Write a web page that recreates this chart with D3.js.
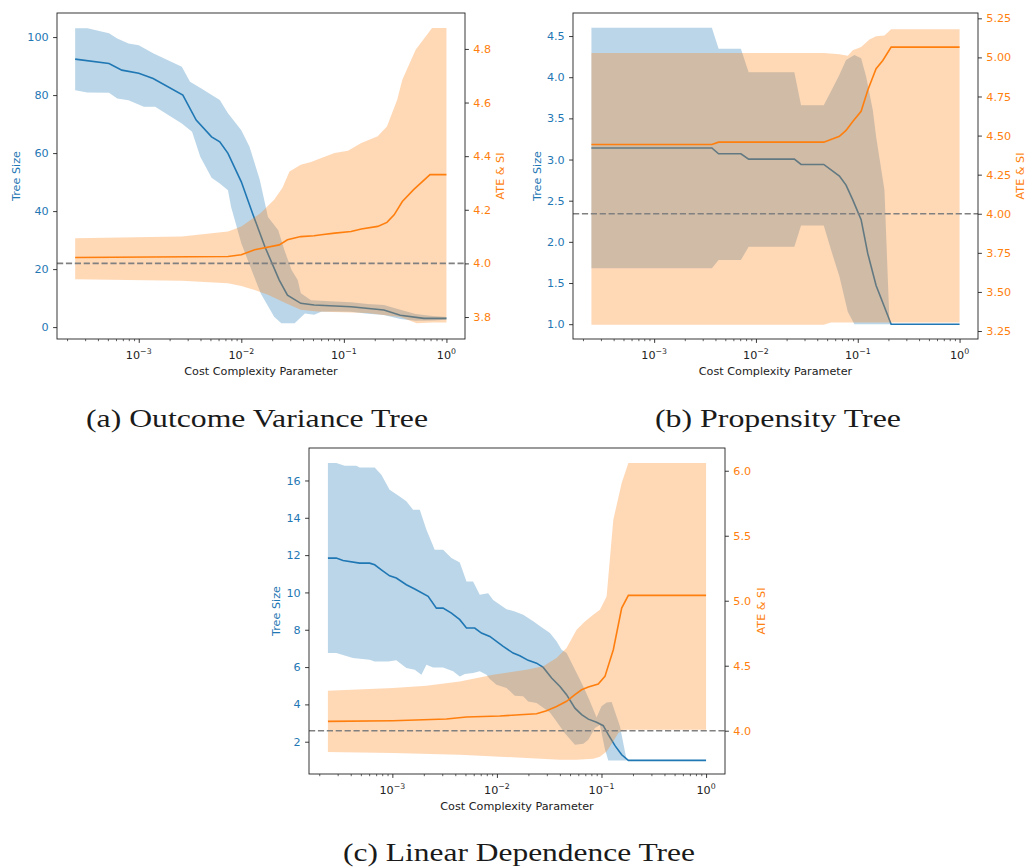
<!DOCTYPE html>
<html>
<head>
<meta charset="utf-8">
<script src="https://cdn.jsdelivr.net/npm/d3@7"></script>
<style>
  body { margin: 0; background: #fff; }
  svg { display: block; }
</style>
</head>
<body>
<svg id="fig" width="1026" height="868"></svg>
<script>
// every series is a list of [log10(cost complexity alpha), value]

// (a) Outcome Variance Tree
const sizeMeanA = [[-3.62, 92.4], [-3.29, 90.9], [-3.165, 88.6], [-3.0, 87.5], [-2.86, 85.7], [-2.57, 80.0], [-2.44, 71.4], [-2.29, 65.6], [-2.21, 63.9], [-2.13, 59.9], [-2.0, 50.1], [-1.89, 39.2], [-1.77, 27.7], [-1.63, 16.2], [-1.55, 11.0], [-1.42, 8.2], [-1.29, 7.6], [-0.93, 7.0], [-0.61, 5.9], [-0.45, 4.1], [-0.22, 3.0], [0, 3.0]];
const sizeHiA = [[-3.62, 103], [-3.5, 103], [-3.29, 101.3], [-3.21, 99.5], [-3.1, 97.8], [-3.0, 97.2], [-2.86, 94.4], [-2.58, 89.8], [-2.5, 84.6], [-2.39, 82.3], [-2.21, 78.3], [-2.13, 73.7], [-2.0, 67.9], [-1.92, 62.2], [-1.82, 50.8], [-1.74, 38], [-1.64, 33.4], [-1.58, 26.6], [-1.51, 19.7], [-1.45, 16.2], [-1.42, 11.7], [-1.32, 9.3], [-1.09, 8.8], [-0.93, 8.6], [-0.77, 8.0], [-0.61, 7.6], [-0.45, 6.0], [-0.3, 4.5], [-0.14, 3.8], [0, 3.5]];
const sizeLoA = [[-3.62, 81.7], [-3.5, 80.9], [-3.29, 80.8], [-3.21, 78.8], [-3.1, 78.2], [-2.95, 76.0], [-2.84, 76.0], [-2.58, 70.2], [-2.48, 67.4], [-2.4, 58.7], [-2.29, 51.5], [-2.21, 49.5], [-2.13, 47.2], [-2.1, 41.5], [-2.0, 28.9], [-1.9, 19.7], [-1.81, 11.6], [-1.68, 3.6], [-1.61, 1.3], [-1.48, 1.3], [-1.38, 4.7], [-1.29, 4.3], [-1.22, 5.3], [-1.09, 5.4], [-0.93, 5.3], [-0.77, 4.6], [-0.61, 4.2], [-0.45, 2.8], [-0.3, 2.2], [-0.14, 2.3], [0, 2.5]];
const ateMeanA = [[-3.62, 4.022], [-2.13, 4.026], [-2.0, 4.032], [-1.87, 4.051], [-1.63, 4.069], [-1.55, 4.088], [-1.42, 4.10], [-1.29, 4.103], [-1.22, 4.107], [-1.09, 4.113], [-0.93, 4.119], [-0.83, 4.128], [-0.67, 4.138], [-0.58, 4.153], [-0.51, 4.181], [-0.43, 4.231], [-0.32, 4.275], [-0.16, 4.331], [0, 4.331]];
const ateHiA = [[-3.62, 4.094], [-2.58, 4.10], [-2.13, 4.119], [-2.0, 4.138], [-1.81, 4.188], [-1.68, 4.237], [-1.6, 4.281], [-1.53, 4.343], [-1.42, 4.368], [-1.32, 4.378], [-1.22, 4.393], [-1.09, 4.412], [-0.96, 4.42], [-0.83, 4.449], [-0.67, 4.474], [-0.58, 4.511], [-0.48, 4.61], [-0.43, 4.685], [-0.3, 4.797], [-0.14, 4.878], [0, 4.878]];
const ateLoA = [[-3.62, 3.941], [-2.58, 3.935], [-2.13, 3.926], [-2.0, 3.916], [-1.87, 3.901], [-1.74, 3.883], [-1.57, 3.852], [-1.42, 3.827], [-1.26, 3.821], [-0.77, 3.815], [-0.45, 3.80], [-0.29, 3.777], [-0.14, 3.78], [0, 3.78]];

// (b) Propensity Tree
const sizeMeanB = [[-3.616, 3.14], [-2.433, 3.14], [-2.367, 3.07], [-2.148, 3.07], [-2.072, 3.005], [-1.623, 3.005], [-1.557, 2.94], [-1.334, 2.94], [-1.18, 2.80], [-1.115, 2.69], [-1.049, 2.51], [-0.967, 2.27], [-0.902, 1.86], [-0.82, 1.47], [-0.754, 1.26], [-0.672, 1.0], [0, 1.0]];
const sizeHiB = [[-3.616, 4.6], [-2.433, 4.6], [-2.367, 4.345], [-2.148, 4.345], [-2.072, 4.06], [-1.623, 4.06], [-1.557, 3.66], [-1.334, 3.66], [-1.246, 3.87], [-1.18, 4.03], [-1.115, 4.21], [-1.033, 4.27], [-0.967, 4.23], [-0.918, 4.01], [-0.852, 3.6], [-0.82, 3.28], [-0.738, 2.63], [-0.689, 1.04], [-0.672, 1.0], [0, 1.0]];
const sizeLoB = [[-3.616, 1.68], [-2.433, 1.68], [-2.367, 1.78], [-2.148, 1.78], [-2.072, 1.94], [-1.623, 1.94], [-1.557, 2.2], [-1.334, 2.2], [-1.262, 1.9], [-1.18, 1.58], [-1.098, 1.15], [-1.033, 1.0], [0, 1.0]];
const ateMeanB = [[-3.616, 4.443], [-2.433, 4.443], [-2.367, 4.458], [-1.334, 4.458], [-1.18, 4.495], [-1.115, 4.533], [-1.049, 4.59], [-0.967, 4.655], [-0.902, 4.79], [-0.82, 4.928], [-0.754, 4.98], [-0.672, 5.066], [0, 5.066]];
const ateHiB = [[-3.616, 5.028], [-1.334, 5.028], [-1.18, 5.02], [-1.098, 5.01], [-1.049, 5.045], [-0.967, 5.066], [-0.885, 5.115], [-0.82, 5.135], [-0.738, 5.14], [-0.672, 5.18], [0, 5.18]];
const ateLoB = [[-3.616, 3.29], [-1.334, 3.29], [-1.262, 3.305], [0, 3.305]];

// (c) Linear Dependence Tree
const sizeMeanC = [[-3.616, 11.84], [-3.536, 11.84], [-3.472, 11.71], [-3.313, 11.57], [-3.217, 11.57], [-3.169, 11.48], [-3.105, 11.21], [-3.026, 10.89], [-2.962, 10.77], [-2.866, 10.41], [-2.786, 10.18], [-2.658, 9.79], [-2.579, 9.16], [-2.515, 9.16], [-2.435, 8.89], [-2.355, 8.54], [-2.291, 8.09], [-2.212, 8.09], [-2.148, 7.82], [-2.068, 7.64], [-1.94, 7.11], [-1.845, 6.75], [-1.781, 6.61], [-1.701, 6.36], [-1.621, 6.21], [-1.557, 5.98], [-1.477, 5.41], [-1.397, 4.96], [-1.334, 4.52], [-1.254, 3.8], [-1.19, 3.45], [-1.126, 3.21], [-1.047, 3.04], [-0.983, 2.86], [-0.935, 2.38], [-0.871, 1.79], [-0.807, 1.3], [-0.743, 1.0], [0, 1.0]];
const sizeHiC = [[-3.616, 16.93], [-3.536, 16.93], [-3.456, 16.79], [-3.345, 16.79], [-3.313, 16.7], [-3.169, 16.7], [-3.105, 16.3], [-3.026, 15.5], [-2.93, 15.14], [-2.866, 14.88], [-2.802, 14.43], [-2.738, 14.43], [-2.674, 13.36], [-2.595, 12.29], [-2.515, 12.29], [-2.435, 11.84], [-2.355, 11.6], [-2.291, 10.59], [-2.228, 10.59], [-2.164, 9.88], [-2.084, 9.96], [-2.036, 9.6], [-1.908, 9.1], [-1.829, 8.98], [-1.749, 8.8], [-1.653, 8.45], [-1.573, 8.13], [-1.493, 7.82], [-1.43, 7.38], [-1.382, 6.93], [-1.334, 6.75], [-1.238, 5.68], [-1.174, 4.96], [-1.11, 4.16], [-1.047, 3.3], [-1.0, 3.9], [-0.951, 4.1], [-0.903, 4.13], [-0.823, 2.82], [-0.759, 1.0], [0, 1.0]];
const sizeLoC = [[-3.616, 6.75], [-3.536, 6.75], [-3.377, 6.48], [-3.217, 6.39], [-3.169, 6.3], [-3.041, 6.3], [-2.962, 6.36], [-2.866, 5.95], [-2.786, 5.86], [-2.722, 5.59], [-2.674, 6.12], [-2.611, 5.98], [-2.515, 5.98], [-2.419, 5.77], [-2.355, 5.5], [-2.307, 5.63], [-2.228, 5.68], [-2.164, 5.77], [-2.1, 5.59], [-2.068, 5.36], [-2.004, 5.05], [-1.908, 4.88], [-1.829, 4.46], [-1.749, 4.43], [-1.701, 4.16], [-1.621, 4.07], [-1.573, 3.89], [-1.493, 3.57], [-1.43, 3.09], [-1.35, 2.46], [-1.254, 1.84], [-1.174, 1.89], [-1.126, 2.11], [-1.063, 2.73], [-1.015, 2.9], [-0.967, 1.6], [-0.935, 1.0], [0, 1.0]];
const ateMeanC = [[-3.616, 4.072], [-2.994, 4.077], [-2.483, 4.09], [-2.291, 4.105], [-1.972, 4.113], [-1.781, 4.123], [-1.621, 4.131], [-1.525, 4.154], [-1.43, 4.187], [-1.334, 4.226], [-1.254, 4.277], [-1.19, 4.315], [-1.126, 4.336], [-1.031, 4.359], [-0.967, 4.418], [-0.887, 4.623], [-0.807, 4.944], [-0.743, 5.041], [0, 5.041]];
const ateHiC = [[-3.616, 4.308], [-2.994, 4.328], [-2.674, 4.346], [-2.355, 4.379], [-2.036, 4.431], [-1.717, 4.469], [-1.557, 4.495], [-1.43, 4.559], [-1.334, 4.636], [-1.238, 4.777], [-1.158, 4.841], [-1.079, 4.892], [-1.015, 4.931], [-0.951, 5.033], [-0.887, 5.623], [-0.807, 5.905], [-0.743, 6.059], [0, 6.059]];
const ateLoC = [[-3.616, 3.836], [-2.994, 3.828], [-2.355, 3.815], [-1.717, 3.79], [-1.397, 3.777], [-1.238, 3.777], [-1.079, 3.785], [-1.015, 3.8], [-0.951, 3.84], [-0.887, 3.918], [-0.839, 3.982], [-0.791, 4.008], [0, 4.008]];

// ticks
const xMajor = [1e-3, 1e-2, 1e-1, 1];
const xMajorExp = ["\u22123", "\u22122", "\u22121", "0"];
const sizeTicksA = [0, 20, 40, 60, 80, 100];
const ateTicksA = [3.8, 4.0, 4.2, 4.4, 4.6, 4.8];
const sizeTicksB = [1.0, 1.5, 2.0, 2.5, 3.0, 3.5, 4.0, 4.5];
const ateTicksB = [3.25, 3.5, 3.75, 4.0, 4.25, 4.5, 4.75, 5.0, 5.25];
const sizeTicksC = [2, 4, 6, 8, 10, 12, 14, 16];
const ateTicksC = [4.0, 4.5, 5.0, 5.5, 6.0];
const refAte = 4.0;

const BLUE = "#1f77b4", ORANGE = "#ff7f0e";
const FONT = "DejaVu Sans", FS = 11.2;
const xDomain = [Math.pow(10, -3.797), Math.pow(10, 0.181)];

const panels = [
  { box: [57, 13, 465, 339], sizeDom: [-4.1, 108.3], ateDom: [3.718, 4.934],
    sizeTicks: sizeTicksA, ateTicks: ateTicksA, sizeFmt: d3.format("d"), ateFmt: d3.format(".1f"),
    mean: sizeMeanA, hi: sizeHiA, lo: sizeLoA, aMean: ateMeanA, aHi: ateHiA, aLo: ateLoA,
    lLab: 20, rLab: 503.5, caption: "(a) Outcome Variance Tree", capX: 257, capY: 427, capW: 342 },
  { box: [573, 13, 978, 339], sizeDom: [0.82, 4.78], ateDom: [3.199, 5.284],
    sizeTicks: sizeTicksB, ateTicks: ateTicksB, sizeFmt: d3.format(".1f"), ateFmt: d3.format(".2f"),
    mean: sizeMeanB, hi: sizeHiB, lo: sizeLoB, aMean: ateMeanB, aHi: ateHiB, aLo: ateLoB,
    lLab: 540.5, rLab: 1024, caption: "(b) Propensity Tree", capX: 778, capY: 427, capW: 246 },
  { box: [309, 448, 725, 774], sizeDom: [0.27, 17.74], ateDom: [3.667, 6.175],
    sizeTicks: sizeTicksC, ateTicks: ateTicksC, sizeFmt: d3.format("d"), ateFmt: d3.format(".1f"),
    mean: sizeMeanC, hi: sizeHiC, lo: sizeLoC, aMean: ateMeanC, aHi: ateHiC, aLo: ateLoC,
    lLab: 280, rLab: 765, caption: "(c) Linear Dependence Tree", capX: 519, capY: 861, capW: 352 }
];

const svg = d3.select("#fig");

panels.forEach((p, i) => {
  const [x0, y0, x1, y1] = p.box;
  const x = d3.scaleLog().domain(xDomain).range([x0, x1]);
  const yL = d3.scaleLinear().domain(p.sizeDom).range([y1, y0]);
  const yR = d3.scaleLinear().domain(p.ateDom).range([y1, y0]);
  const g = svg.append("g");

  const clipId = "clip" + i;
  g.append("clipPath").attr("id", clipId)
    .append("rect").attr("x", x0).attr("y", y0).attr("width", x1 - x0).attr("height", y1 - y0);
  const plot = g.append("g").attr("clip-path", `url(#${clipId})`);

  const lineL = d3.line().x(d => x(Math.pow(10, d[0]))).y(d => yL(d[1]));
  const lineR = d3.line().x(d => x(Math.pow(10, d[0]))).y(d => yR(d[1]));
  const band = (hi, lo, ln) => ln(hi.concat(lo.slice().reverse())) + "Z";

  // tree size (left axis)
  plot.append("path").attr("d", band(p.hi, p.lo, lineL))
    .attr("fill", BLUE).attr("fill-opacity", 0.3);
  plot.append("path").attr("d", lineL(p.mean))
    .attr("fill", "none").attr("stroke", BLUE).attr("stroke-width", 1.6);

  // ATE & SI (twin axis, drawn on top)
  plot.append("path").attr("d", band(p.aHi, p.aLo, lineR))
    .attr("fill", ORANGE).attr("fill-opacity", 0.3);
  plot.append("path").attr("d", lineR(p.aMean))
    .attr("fill", "none").attr("stroke", ORANGE).attr("stroke-width", 1.6);

  plot.append("line")
    .attr("x1", x0).attr("x2", x1).attr("y1", yR(refAte)).attr("y2", yR(refAte))
    .attr("stroke", "#808080").attr("stroke-width", 1.6).attr("stroke-dasharray", "6.2,2.7");

  // spines
  g.append("rect").attr("x", x0).attr("y", y0).attr("width", x1 - x0).attr("height", y1 - y0)
    .attr("fill", "none").attr("stroke", "#222").attr("stroke-width", 0.9);

  // left axis
  const la = g.append("g").attr("transform", `translate(${x0},0)`)
    .call(d3.axisLeft(yL).tickValues(p.sizeTicks).tickFormat(p.sizeFmt).tickSize(3.9).tickPadding(4.4));
  la.select(".domain").remove();
  la.selectAll("line").attr("stroke", "#222").attr("stroke-width", 0.9);
  la.selectAll("text").attr("fill", BLUE).style("font-family", FONT).style("font-size", FS + "px");

  // right axis
  const ra = g.append("g").attr("transform", `translate(${x1},0)`)
    .call(d3.axisRight(yR).tickValues(p.ateTicks).tickFormat(p.ateFmt).tickSize(3.9).tickPadding(4.4));
  ra.select(".domain").remove();
  ra.selectAll("line").attr("stroke", "#222").attr("stroke-width", 0.9);
  ra.selectAll("text").attr("fill", ORANGE).style("font-family", FONT).style("font-size", FS + "px");

  // bottom axis: major + minor log ticks
  const minor = x.ticks().filter(v => Math.abs(Math.log10(v) - Math.round(Math.log10(v))) > 1e-6);
  const mi = g.append("g").attr("transform", `translate(0,${y1})`)
    .call(d3.axisBottom(x).tickValues(minor).tickFormat("").tickSize(2.2));
  mi.select(".domain").remove();
  mi.selectAll("line").attr("stroke", "#222").attr("stroke-width", 0.7);

  const ma = g.append("g").attr("transform", `translate(0,${y1})`)
    .call(d3.axisBottom(x).tickValues(xMajor).tickFormat("").tickSize(3.9));
  ma.select(".domain").remove();
  ma.selectAll("line").attr("stroke", "#222").attr("stroke-width", 0.9);

  xMajor.forEach((v, k) => {
    const t = g.append("text")
      .attr("x", x(v)).attr("y", y1 + 20)
      .attr("text-anchor", "middle")
      .style("font-family", FONT).style("font-size", FS + "px").attr("fill", "#222");
    t.append("tspan").text("10");
    t.append("tspan").attr("dy", -4.6).style("font-size", "7.8px").text(xMajorExp[k]);
  });

  // axis labels
  g.append("text")
    .attr("x", (x0 + x1) / 2).attr("y", y1 + 36)
    .attr("text-anchor", "middle")
    .style("font-family", FONT).style("font-size", FS + "px").attr("fill", "#222")
    .text("Cost Complexity Parameter");
  g.append("text")
    .attr("transform", `translate(${p.lLab},${(y0 + y1) / 2}) rotate(-90)`)
    .attr("text-anchor", "middle")
    .style("font-family", FONT).style("font-size", FS + "px").attr("fill", BLUE)
    .text("Tree Size");
  g.append("text")
    .attr("transform", `translate(${p.rLab},${(y0 + y1) / 2}) rotate(-90)`)
    .attr("text-anchor", "middle")
    .style("font-family", FONT).style("font-size", FS + "px").attr("fill", ORANGE)
    .text("ATE & SI");

  // subfigure caption
  svg.append("text")
    .attr("x", p.capX - p.capW / 2).attr("y", p.capY)
    .attr("textLength", p.capW).attr("lengthAdjust", "spacingAndGlyphs")
    .style("font-family", "Liberation Serif").style("font-size", "26px").attr("fill", "#1a1a1a")
    .text(p.caption);
});
</script>
</body>
</html>
